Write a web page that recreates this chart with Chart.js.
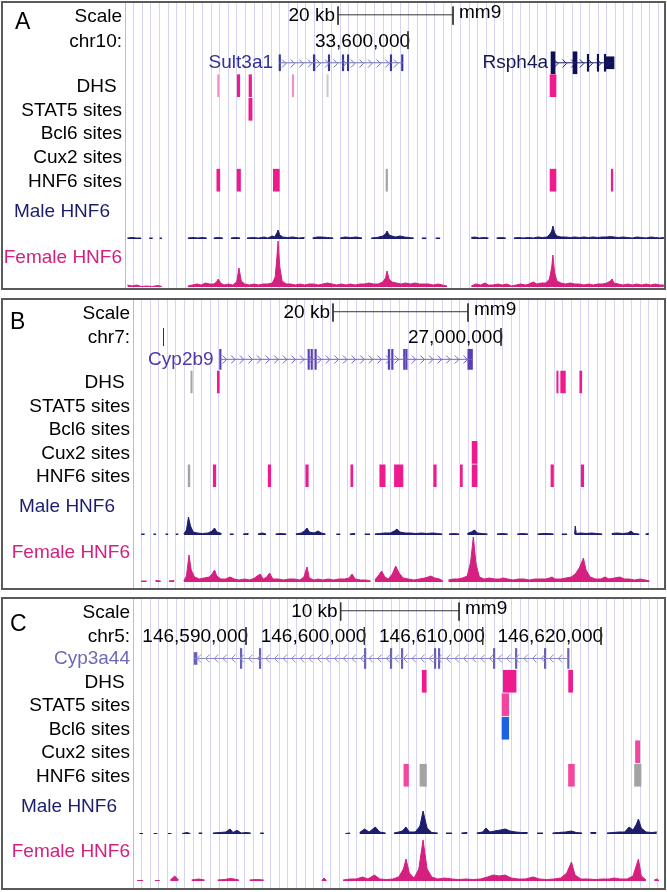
<!DOCTYPE html>
<html>
<head>
<meta charset="utf-8">
<title>HNF6 binding tracks</title>
<script src="https://cdn.jsdelivr.net/npm/chart.js@4.4.1/dist/chart.umd.min.js"></script>
<style>
  html, body { margin:0; padding:0; background:#fff; }
  body { position:relative; width:667px; height:892px; overflow:hidden; font-family:"Liberation Sans", Arial, Helvetica, sans-serif; }
  .panel { position:absolute; left:1px; width:661px; border:2px solid #5a5a5a; background:#fff; }
  .panel canvas { display:block; }
  .letter { position:absolute; font-size:23px; line-height:23px; color:#000; }
</style>
</head>
<body>
<div class="panel" style="top:1px;height:285px"><canvas id="cA" width="661" height="285"></canvas></div>
<div class="panel" style="top:298px;height:288px"><canvas id="cB" width="661" height="288"></canvas></div>
<div class="panel" style="top:597px;height:289px"><canvas id="cC" width="661" height="289"></canvas></div>
<div class="letter" style="left:15px;top:10px">A</div>
<div class="letter" style="left:10px;top:310px">B</div>
<div class="letter" style="left:10px;top:612px">C</div>
<script>
// ================= DATA (genomic positions in kb) =================
// ---- Panel A : chr10 ----
const A_range = [33550.78, 33644.52];
const A_coordTicks = [33600];
const A_coordLabels = ['33,600,000'];
const A_scaleBar = [33587.83, 33607.83];
const A_dhs = [[33566.88,33567.14,'L'],[33570.30,33570.74,'F'],[33572.35,33572.79,'F'],[33579.87,33580.13,'L'],[33585.87,33586.13,'g'],[33624.70,33625.74,'F']];
const A_stat5 = [[33572.32,33572.88,'F']];
const A_bcl6 = [];
const A_cux2 = [];
const A_hnf6 = [[33566.75,33567.27,'F'],[33570.27,33570.87,'F'],[33576.58,33577.62,'F'],[33596.18,33596.44,'G'],[33624.70,33625.74,'F'],[33635.34,33635.62,'F']];
const A_genes = [
  {name:'Sult3a1', strand:'+', start:33577.57, end:33599.13,
   exons:[[33577.57,33577.83,'x'],[33583.52,33583.82,'x'],[33586.13,33586.39,'x'],[33588.57,33588.83,'x'],[33589.44,33589.70,'x'],[33596.91,33597.17,'x'],[33598.87,33599.13,'x']]},
  {name:'Rsph4a', strand:'+', start:33624.87, end:33635.83,
   exons:[[33624.87,33625.57,'t'],[33628.70,33629.39,'t'],[33631.17,33631.43,'x'],[33632.91,33633.17,'x'],[33634.13,33634.39,'x'],[33634.43,33635.83,'u']]}
];
const A_male = [
  [33551.2,1],[33552.0,1.5],[33552.8,1],[33553.6,1],[33554.2,null],[33555.0,1],[33555.6,1],[33556.2,null],[33556.8,1],[33557.2,1],[33558.0,null],
  [33561.7,1],[33562.6,1.5],[33563.4,1],[33564.2,1.5],[33565.0,1],[33565.6,null],[33566.2,1],[33567.0,1.5],[33567.8,1],[33568.4,null],[33569.2,1],[33570.0,1.5],[33570.8,1],[33571.4,null],
  [33572.0,1],[33573.0,1.5],[33574.0,1],[33575.0,2],[33575.6,1],[33576.4,3],[33576.8,2],[33577.2,6],[33577.4,9],[33577.7,4],[33578.2,2],[33579.0,1.5],[33580.0,2],[33581.0,1],[33582.0,1.5],[33582.6,null],
  [33583.4,1],[33584.2,2],[33585.0,2],[33586.0,1.5],[33587.0,1],[33587.6,null],[33588.2,1],[33589.0,2],[33590.0,1.5],[33591.0,2],[33592.0,1],[33592.6,null],
  [33593.6,1],[33594.6,1.5],[33595.6,3],[33596.1,5],[33596.35,8],[33596.7,4],[33597.2,3],[33597.8,2],[33598.6,3],[33599.4,2],[33600.2,1.5],[33601.0,1],[33601.6,null],
  [33602.4,1],[33603.2,1],[33603.8,null],[33604.8,1],[33605.6,1],[33606.2,null],[33606.8,1],[33607.5,null],
  [33611.0,1.5],[33611.6,2],[33612.4,1],[33613.2,1.5],[33614.0,1],[33614.6,null],[33615.4,1],[33616.2,1.5],[33617.0,1],[33617.6,null],
  [33618.4,1],[33619.2,1.5],[33620.0,1],[33621.0,1.5],[33621.8,1],[33622.6,2],[33623.4,1.5],[33624.2,2],[33624.7,5],[33625.0,8],[33625.2,13],[33625.5,6],[33625.9,3],
  [33626.6,2],[33627.4,2],[33628.2,1.5],[33629.0,2],[33629.8,1.5],[33630.6,2],[33631.4,1.5],[33632.2,2],[33633.0,1.5],[33633.8,2],[33634.6,2],[33635.2,2.5],[33635.8,2],
  [33636.6,1.5],[33637.4,2],[33638.2,1.5],[33639.0,1],[33639.8,2],[33640.6,1.5],[33641.4,1],[33642.2,2],[33643.0,1.5],[33643.8,1],[33644.5,1.5]
];
const A_female = [
  [33551.2,2],[33552.0,1],[33552.8,2],[33553.6,0.5],[33554.5,1],[33555.5,0.5],[33556.5,1.5],[33557.2,0.5],[33558.0,null],
  [33561.7,1],[33562.5,2],[33563.3,3],[33564.0,2],[33564.8,4],[33565.5,3],[33566.2,3],[33566.7,5],[33567.0,8],[33567.4,4],[33568.0,2],[33568.8,3],[33569.5,2],
  [33570.2,5],[33570.6,19],[33571.0,6],[33571.6,3],[33572.4,2],[33573.2,3],[33574.0,2],[33574.8,3],[33575.6,3],[33576.4,4],[33576.9,10],[33577.2,30],[33577.4,46],[33577.7,20],[33578.1,6],
  [33578.8,3],[33579.6,3],[33580.4,2],[33581.2,3],[33582.0,2],[33582.8,3],[33583.6,3],[33584.4,2],[33585.2,3],[33586.0,4],[33586.8,3],[33587.6,2],[33588.4,3],[33589.2,2],
  [33590.0,3],[33590.8,2],[33591.6,3],[33592.4,3],[33593.2,4],[33594.0,3],[33594.8,3],[33595.6,5],[33596.1,9],[33596.35,16],[33596.7,8],[33597.2,5],[33598.0,4],[33598.8,3],
  [33599.6,4],[33600.4,3],[33601.2,4],[33602.0,3],[33602.8,3],[33603.6,3],[33604.4,2],[33605.2,3],[33606.0,2],[33606.8,1],[33607.5,null],
  [33611.0,1],[33611.8,3],[33612.6,2],[33613.4,4],[33614.0,2],[33614.8,2],[33615.6,3],[33616.4,2],[33617.2,3],[33618.0,1],[33618.8,2],[33619.6,3],[33620.4,2],[33621.0,3],
  [33621.8,5],[33622.4,3],[33623.2,4],[33624.0,4],[33624.6,8],[33625.0,20],[33625.2,32],[33625.5,14],[33625.9,6],[33626.6,4],[33627.4,3],[33628.2,4],[33629.0,3],[33629.8,3],
  [33630.6,2],[33631.4,3],[33632.2,2],[33633.0,3],[33633.8,3],[33634.6,4],[33635.2,6],[33635.5,8],[33635.8,4],[33636.6,3],[33637.4,2],[33638.2,3],[33639.0,2],[33639.8,3],
  [33640.6,2],[33641.4,3],[33642.2,2],[33643.0,3],[33643.8,2],[33644.5,2]
];

// ---- Panel B : chr7 ----
const B_range = [26945.48, 27024.15];
const B_coordTicks = [26950, 27000];
const B_coordLabels = ['', '27,000,000'];
const B_scaleBar = [26975.11, 26995.11];
const B_dhs = [[26954.05,26954.25,'G'],[26957.97,26958.27,'F'],[27008.26,27008.46,'F'],[27008.84,27009.54,'F'],[27011.67,27011.97,'F']];
const B_stat5 = [];
const B_bcl6 = [];
const B_cux2 = [[26995.72,26996.46,'F']];
const B_hnf6 = [[26953.65,26953.91,'G'],[26957.37,26957.75,'F'],[26965.51,26965.89,'F'],[26971.07,26971.45,'F'],[26977.75,26978.05,'F'],[26982.04,26982.84,'F'],
  [26984.21,26985.47,'F'],[26990.03,26990.41,'F'],[26993.98,26994.28,'F'],[26995.72,26996.46,'F'],[27007.40,27007.78,'F'],[27011.88,27012.26,'F']];
const B_genes = [
  {name:'Cyp2b9', strand:'+', start:26958.31, end:26995.78,
   exons:[[26958.31,26958.53,'x'],[26971.40,26971.62,'x'],[26971.85,26972.07,'x'],[26972.42,26972.64,'x'],[26983.28,26983.50,'x'],[26983.79,26984.01,'x'],
          [26985.56,26985.78,'x'],[26985.88,26986.10,'x'],[26995.08,26995.78,'x']]}
];
const B_male = [
  [26946.7,1],[26947.2,1],[26947.6,null],[26948.5,1],[26948.9,1],[26949.3,null],[26950.3,1],[26950.7,1],[26951.2,null],[26951.8,1],[26952.2,1],[26952.6,null],
  [26953.0,1],[26953.4,5],[26953.7,18],[26954.0,9],[26954.4,3],[26955.0,2],[26955.8,1.5],[26956.6,2],[26957.2,4],[26957.56,7],[26957.9,3],[26958.6,1.5],[26959.2,null],
  [26959.8,1],[26960.4,1],[26961.0,null],[26961.8,1],[26962.6,1.5],[26963.2,null],[26964.0,1],[26964.6,2],[26965.2,1],[26965.8,null],[26966.6,1],[26967.4,1.5],[26968.2,1],[26968.8,null],
  [26969.6,1],[26970.4,2],[26970.9,4],[26971.26,7],[26971.6,3],[26972.3,2],[26972.89,4],[26973.4,2],[26974.0,1],[26974.6,null],[26975.6,1],[26976.2,1],[26976.8,null],
  [26977.6,1],[26978.4,1.5],[26979.0,null],[26979.8,1],[26980.6,1],[26981.0,null],
  [26981.3,1],[26982.0,1.5],[26982.8,2],[26983.6,2],[26984.2,4],[26984.59,6],[26985.0,3],[26985.8,2],[26986.6,2],[26987.4,1.5],[26988.2,2],[26989.0,1.5],[26989.8,2],[26990.6,1.5],[26991.3,1],[26991.8,null],
  [26992.3,1],[26993.0,1.5],[26993.8,1],[26994.4,null],[26995.0,1.5],[26995.6,3],[26996.09,5],[26996.5,2],[26997.2,1.5],[26998.0,1],[26998.6,null],[26999.4,1],[27000.2,1.5],[27001.0,1],[27001.6,null],
  [27002.4,1],[27003.2,1.5],[27004.0,1],[27004.6,null],[27005.4,1],[27006.2,1.5],[27007.0,1.5],[27007.8,1],[27008.4,null],[27009.0,1],[27009.8,1],[27010.4,null],
  [27010.9,1],[27011.0,9],[27011.15,1.5],[27011.8,2],[27012.6,1.5],[27013.4,2],[27014.2,1.5],[27015.0,1],[27015.6,null],[27016.4,1.5],[27017.2,2],[27018.0,1.5],[27018.8,2],[27019.26,4],[27019.7,1.5],[27020.5,1],[27021.0,null],
  [27021.4,1],[27021.9,1.5],[27022.3,null]
];
const B_female = [
  [26946.7,1],[26947.5,1],[26948.0,null],[26948.8,1.5],[26949.6,1],[26950.2,null],[26950.8,1],[26951.6,1.5],[26952.2,null],
  [26953.0,1],[26953.4,6],[26953.78,27],[26954.1,12],[26954.6,5],[26955.3,3],[26956.0,4],[26956.8,5],[26957.2,8],[26957.56,12],[26957.9,6],[26958.5,3],[26959.2,3],[26959.85,5],
  [26960.5,3],[26961.2,2],[26962.0,3],[26962.8,2],[26963.5,4],[26964.3,8],[26964.8,3],[26965.3,5],[26965.7,9],[26966.2,3],[26967.0,3],[26967.8,2],[26968.6,3],[26969.4,3],
  [26970.2,2],[26970.8,5],[26971.26,15],[26971.6,4],[26972.3,2],[26972.9,3],[26973.6,2],[26974.4,3],[26975.2,2],[26976.0,3],[26976.8,3],[26977.5,4],[26977.93,8],[26978.4,3],
  [26979.2,2],[26980.0,2],[26980.7,1],[26981.0,null],
  [26981.3,2],[26981.8,6],[26982.31,11],[26982.8,5],[26983.3,3],[26983.9,8],[26984.4,16],[26984.9,9],[26985.5,4],[26986.3,3],[26987.1,2],[26987.9,3],[26988.7,4],[26989.2,5],
  [26989.59,6],[26990.2,4],[26990.9,3],[26991.4,1],[26991.8,null],
  [26992.2,2],[26992.9,3],[26993.6,3],[26994.3,4],[26995.0,6],[26995.5,20],[26995.9,45],[26996.3,18],[26996.8,5],[26997.5,3],[26998.3,4],[26999.1,3],[26999.8,3],[27000.3,4],
  [27001.0,3],[27001.8,2],[27002.6,3],[27003.4,3],[27004.2,2],[27005.0,3],[27005.8,3],[27006.6,3],[27007.2,4],[27007.56,5],[27008.0,3],[27008.8,3],[27009.6,4],[27010.4,5],
  [27011.0,8],[27011.6,14],[27012.21,24],[27012.6,12],[27013.2,5],[27014.0,3],[27014.8,3],[27015.4,5],[27016.0,3],[27016.8,4],[27017.6,5],[27018.3,3],[27019.0,3],[27019.8,2],
  [27020.6,3],[27021.4,2],[27022.0,1]
];

// ---- Panel C : chr5 ----
const C_range = [146580.45, 146625.32];
const C_coordTicks = [146590, 146600, 146610, 146620];
const C_coordLabels = ['146,590,000', '146,600,000', '146,610,000', '146,620,000'];
const C_scaleBar = [146598.0, 146608.0];
const C_dhs = [[146604.89,146605.23,'F'],[146611.74,146612.82,'F'],[146617.26,146617.60,'F']];
const C_stat5 = [[146611.63,146612.20,'S']];
const C_bcl6 = [[146611.63,146612.20,'B']];
const C_cux2 = [[146622.91,146623.27,'S']];
const C_hnf6 = [[146603.34,146603.73,'S'],[146604.70,146605.25,'G'],[146617.25,146617.75,'S'],[146622.83,146623.38,'G']];
const C_genes = [
  {name:'Cyp3a44', strand:'-', start:146585.61, end:146617.30,
   exons:[[146585.61,146585.86,'u'],[146589.52,146589.65,'x'],[146591.12,146591.25,'x'],[146600.00,146600.13,'x'],[146602.19,146602.32,'x'],[146603.12,146603.25,'x'],
          [146605.91,146606.04,'x'],[146606.25,146606.38,'x'],[146610.90,146611.03,'x'],[146612.76,146612.89,'x'],[146615.21,146615.34,'x'],[146617.17,146617.30,'x']]}
];
const C_male = [
  [146581.0,0.5],[146581.3,0.5],[146581.6,null],[146582.2,0.5],[146582.5,0.5],[146582.8,null],[146583.4,0.5],[146583.7,0.5],[146584.0,null],
  [146584.6,0.5],[146585.0,1.5],[146585.3,0.5],[146585.6,null],[146586.0,1],[146586.3,1],[146586.6,null],
  [146587.2,1],[146587.8,1.5],[146588.3,2],[146588.65,5],[146588.9,1.5],[146589.24,3.7],[146589.6,1],[146590.0,1.5],[146590.4,1],[146590.8,null],[146591.2,1],[146591.5,1],[146591.8,null],
  [146598.4,0.5],[146598.8,1],[146599.1,null],[146599.6,1.5],[146600.02,5],[146600.4,2],[146600.93,7],[146601.3,2],[146601.8,1],[146602.1,null],
  [146602.5,1],[146602.9,2],[146603.2,3],[146603.52,7],[146603.8,2],[146604.3,2],[146604.7,8],[146604.96,23],[146605.3,6],[146605.7,1.5],[146606.2,1],[146606.5,null],
  [146606.9,1],[146607.4,1],[146607.7,null],[146608.2,1],[146608.7,1.5],[146609.0,null],[146609.5,1],[146610.0,2],[146610.28,6],[146610.6,2],[146611.0,3],[146611.5,4],
  [146611.91,5],[146612.3,3],[146612.8,2],[146613.3,1.5],[146613.8,1.5],[146614.1,null],[146614.6,1],[146615.1,1],[146615.4,null],
  [146615.9,1],[146616.4,1.5],[146617.0,2],[146617.5,3],[146617.9,1.5],[146618.4,1],[146618.7,null],[146619.1,1.5],[146619.6,1.5],[146619.9,null],
  [146620.5,1],[146621.0,1.5],[146621.5,2],[146622.0,2],[146622.37,7],[146622.7,4],[146623.0,10],[146623.16,15],[146623.4,6],[146623.8,2],[146624.3,1.5],[146624.71,2],[146625.0,null]
];
const C_female = [
  [146580.8,0.5],[146581.3,0.5],[146581.6,null],[146582.3,0.5],[146582.7,0.5],[146583.0,null],[146583.6,1],[146583.98,5],[146584.3,1],[146584.7,null],
  [146585.4,1],[146586.0,2],[146586.5,1],[146586.9,null],[146587.6,1],[146588.2,1.5],[146588.65,2.5],[146589.0,2],[146589.4,1],[146589.8,null],
  [146590.3,1],[146590.9,1.5],[146591.5,1],[146591.9,null],
  [146596.4,0.5],[146596.59,3],[146596.8,0.5],[146597.0,null],
  [146598.2,1],[146598.8,2],[146599.3,2],[146599.85,4],[146600.3,2],[146600.85,6],[146601.3,2],[146601.9,1.5],[146602.4,2],[146602.9,4],[146603.3,12],[146603.52,22],
  [146603.8,8],[146604.2,3],[146604.6,12],[146604.96,41],[146605.3,12],[146605.7,4],[146606.2,2],[146606.8,3],[146607.4,2],[146608.0,1.5],[146608.6,2],[146609.2,1.5],
  [146609.8,2],[146610.4,4],[146610.9,6],[146611.4,5],[146611.91,6],[146612.4,3],[146613.0,2],[146613.6,2],[146614.25,4],[146614.8,2],[146615.4,1.5],[146616.0,2],
  [146616.6,3],[146617.1,8],[146617.5,19],[146617.8,6],[146618.3,2],[146618.9,2],[146619.5,1.5],[146620.1,2],[146620.7,2],[146621.1,3],[146621.6,2],[146622.2,2],
  [146622.7,5],[146623.16,22],[146623.4,5],[146623.8,1],[146624.1,null],[146624.5,1],[146624.71,2],[146624.9,0.5]
];

// ================= STYLE / LAYOUT =================
const FONT_FAMILY = '"Liberation Sans", Arial, Helvetica, sans-serif';
const FONT = {family: FONT_FAMILY, size: 19};
const FONT_CSS = '19px ' + FONT_FAMILY;
const COLORS = {F:'#ef1a8d', L:'#f291c6', S:'#f2479f', G:'#a3a3a3', g:'#cbcbcb', B:'#1b63e2'};
const GRID_C = '#d5d5f3', LEFT_C = '#f3a5a8';
const MALE_C = '#1d1d6b', FEMALE_C = '#d5207f';
const GENE_ROW = 2.53;
const EXON_H = {x: 17, t: 22, u: 12};
const GENE_STYLE = {
  Sult3a1: {exon:'#36369a', intron:'#7070b6', label:'#30309a', inPlot:true, gap:6, h:16},
  Rsph4a:  {exon:'#0f0f55', intron:'#1c1c60', label:'#161650', inPlot:true, gap:3, h:17},
  Cyp2b9:  {exon:'#5a3eb4', intron:'#7462c0', label:'#4f38a8', inPlot:true, gap:6, h:20},
  Cyp3a44: {exon:'#6762b8', intron:'#8a86c8', label:'#6e69b6', inPlot:false, gap:0, h:20}
};

const PANELS = {
  cA: {range:A_range, gridStep:1.4957, coordTicks:A_coordTicks, coordLabels:A_coordLabels, scaleBar:A_scaleBar, scaleText:'20 kb', chr:'chr10:',
       dhs:A_dhs, stat5:A_stat5, bcl6:A_bcl6, cux2:A_cux2, hnf6:A_hnf6, genes:A_genes, male:A_male, female:A_female,
       axisW:122, weights:[189,48,48], maleAx:{min:-1,max:47,label:27,pad:15}, femaleAx:{min:-1,max:47,label:29,pad:3}},
  cB: {range:B_range, gridStep:1.274, coordTicks:B_coordTicks, coordLabels:B_coordLabels, scaleBar:B_scaleBar, scaleText:'20 kb', chr:'chr7:',
       dhs:B_dhs, stat5:B_stat5, bcl6:B_bcl6, cux2:B_cux2, hnf6:B_hnf6, genes:B_genes, male:B_male, female:B_female,
       axisW:130, weights:[187.5,49.5,51], maleAx:{min:-2,max:47.5,label:28,pad:18}, femaleAx:{min:-6,max:45,label:29,pad:3}},
  cC: {range:C_range, gridStep:0.7268, coordTicks:C_coordTicks, coordLabels:C_coordLabels, scaleBar:C_scaleBar, scaleText:'10 kb', chr:'chr5:',
       dhs:C_dhs, stat5:C_stat5, bcl6:C_bcl6, cux2:C_cux2, hnf6:C_hnf6, genes:C_genes, male:C_male, female:C_female,
       axisW:130, weights:[188,49,52], maleAx:{min:-2,max:47,label:27,pad:16}, femaleAx:{min:-7,max:45,label:29,pad:3}}
};

// ================= PLUGINS =================
const trackTextPlugin = {
  id: 'trackText',
  beforeDatasetsDraw(chart) {
    const P = PANELS[chart.canvas.id];
    const xs = chart.scales.x, ys = chart.scales.yFeat, ctx = chart.ctx;
    ctx.save();
    ctx.font = FONT_CSS;
    ctx.textBaseline = 'middle';
    ctx.fillStyle = '#000';
    const b0 = xs.getPixelForValue(P.scaleBar[0]), b1 = xs.getPixelForValue(P.scaleBar[1]);
    ctx.textAlign = 'right';
    ctx.fillText(P.scaleText, b0 - 3, ys.getPixelForValue(0.55));
    ctx.textAlign = 'left';
    ctx.fillText('mm9', b1 + 6, ys.getPixelForValue(0.42));
    ctx.textAlign = 'right';
    P.coordTicks.forEach((t, i) => {
      const lab = P.coordLabels[i];
      if (lab) ctx.fillText(lab, xs.getPixelForValue(t) + 2, ys.getPixelForValue(1.62));
    });
    P.genes.forEach(g => {
      const st = GENE_STYLE[g.name];
      if (!st.inPlot) return;
      ctx.fillStyle = st.label;
      ctx.fillText(g.name, xs.getPixelForValue(g.start) - st.gap, ys.getPixelForValue(GENE_ROW));
    });
    ctx.restore();
  }
};
const intronArrowPlugin = {
  id: 'intronArrows',
  afterDatasetsDraw(chart) {
    const P = PANELS[chart.canvas.id];
    const xs = chart.scales.x, ys = chart.scales.yFeat, ctx = chart.ctx;
    const cy = Math.round(ys.getPixelForValue(GENE_ROW)) + 0.5;
    ctx.save();
    ctx.lineWidth = 1;
    P.genes.forEach(g => {
      const st = GENE_STYLE[g.name];
      const p0 = xs.getPixelForValue(g.start), p1 = xs.getPixelForValue(g.end);
      const d = g.strand === '+' ? 1 : -1;
      ctx.strokeStyle = st.intron;
      for (let p = p0 + 5; p < p1 - 2; p += 8.6) {
        ctx.beginPath();
        ctx.moveTo(p - 2 * d, cy - 4);
        ctx.lineTo(p + 2 * d, cy);
        ctx.lineTo(p - 2 * d, cy + 4);
        ctx.stroke();
      }
    });
    ctx.restore();
  }
};

// ================= BUILD =================
function pts(arr) { return arr.map(p => ({x: p[0], y: p[1]})); }
function noPad(s) { s.paddingTop = 0; s.paddingBottom = 0; s.paddingLeft = 0; s.paddingRight = 0; }

function buildPanel(id) {
  const P = PANELS[id];
  const datasets = [];
  // feature (site) tracks
  const feats = [];
  [[P.dhs, 3], [P.stat5, 4], [P.bcl6, 5], [P.cux2, 6], [P.hnf6, 7]].forEach(([arr, row]) => {
    arr.forEach(f => feats.push({x: [f[0], f[1]], y: row + 0.5, c: f[2]}));
  });
  datasets.push({type:'bar', indexAxis:'y', xAxisID:'x', yAxisID:'yFeat', data: feats, grouped:false, barThickness:22,
    borderWidth:0, backgroundColor: c => (c.raw ? COLORS[c.raw.c] : '#000')});
  // genes
  P.genes.forEach(g => {
    const st = GENE_STYLE[g.name];
    datasets.push({type:'line', xAxisID:'x', yAxisID:'yFeat', data:[{x:g.start, y:GENE_ROW}, {x:g.end, y:GENE_ROW}],
      borderColor: st.intron, borderWidth:1, pointRadius:0, fill:false});
    Object.keys(EXON_H).forEach(k => {
      const ex = g.exons.filter(e => e[2] === k);
      if (!ex.length) return;
      datasets.push({type:'bar', indexAxis:'y', xAxisID:'x', yAxisID:'yFeat', data: ex.map(e => ({x:[e[0], e[1]], y:GENE_ROW})),
        grouped:false, barThickness: k === 'x' ? st.h : EXON_H[k], borderWidth:0, backgroundColor: st.exon});
    });
  });
  // scale bar
  const sb = P.scaleBar;
  datasets.push({type:'line', xAxisID:'x', yAxisID:'yFeat', data:[{x:sb[0], y:0.5}, {x:sb[1], y:0.5}],
    borderColor:'#333', borderWidth:1, pointRadius:0, fill:false});
  datasets.push({type:'line', xAxisID:'x', yAxisID:'yFeat',
    data:[{x:sb[0], y:0.15}, {x:sb[0], y:0.92}, {x:sb[0], y:null}, {x:sb[1], y:0.15}, {x:sb[1], y:0.92}],
    borderColor:'#333', borderWidth:1, pointRadius:0, fill:false, spanGaps:false});
  // coordinate ticks
  const ct = [];
  P.coordTicks.forEach(t => { ct.push({x:t, y:1.2}, {x:t, y:1.95}, {x:t, y:null}); });
  datasets.push({type:'line', xAxisID:'x', yAxisID:'yFeat', data: ct, borderColor:'#333', borderWidth:1, pointRadius:0, fill:false, spanGaps:false});
  // signal tracks
  datasets.push({type:'line', xAxisID:'x', yAxisID:'yMale', data: pts(P.male), borderColor: MALE_C, backgroundColor: MALE_C,
    borderWidth:1, pointRadius:0, fill:'origin', tension:0, spanGaps:false});
  datasets.push({type:'line', xAxisID:'x', yAxisID:'yFemale', data: pts(P.female), borderColor: FEMALE_C, backgroundColor: FEMALE_C,
    borderWidth:1, pointRadius:0, fill:'origin', tension:0, spanGaps:false});

  // left labels of the feature block
  const rows = [
    {v:0.57, t:'Scale', c:'#000'},
    {v:1.62, t:P.chr, c:'#000'}
  ];
  P.genes.forEach(g => { if (!GENE_STYLE[g.name].inPlot) rows.push({v:2.55, t:g.name, c:GENE_STYLE[g.name].label}); });
  rows.push({v:3.55, t:'DHS ', c:'#000'}, {v:4.55, t:'STAT5 sites', c:'#000'}, {v:5.55, t:'Bcl6 sites', c:'#000'},
            {v:6.55, t:'Cux2 sites', c:'#000'}, {v:7.55, t:'HNF6 sites', c:'#000'});

  const axFit = s => { s.width = P.axisW; noPad(s); };
  const wigAxis = (ax, text, color, weight, sw) => ({
    type:'linear', axis:'y', position:'left', stack:'panel', stackWeight: sw, weight: weight,
    min: ax.min, max: ax.max, offset:false,
    grid:{display:false, drawTicks:false, offset:false}, border:{display:false},
    afterBuildTicks: s => { s.ticks = [{value: ax.label}]; },
    afterFit: axFit,
    ticks:{autoSkip:false, padding: ax.pad, font: FONT, color: color, callback: () => text}
  });

  new Chart(document.getElementById(id), {
    type: 'scatter',
    data: {datasets},
    plugins: [trackTextPlugin, intronArrowPlugin],
    options: {
      responsive:false, maintainAspectRatio:false, animation:false, devicePixelRatio:1, events:[],
      layout:{padding:0, autoPadding:false},
      plugins:{legend:{display:false}, tooltip:{enabled:false}},
      scales: {
        x: {
          type:'linear', axis:'x', position:'bottom', min:P.range[0], max:P.range[1], offset:false,
          grid:{color: c => (c.index === 0 ? LEFT_C : GRID_C), lineWidth:1, drawTicks:false, offset:false},
          border:{display:false},
          ticks:{display:false, autoSkip:false},
          afterBuildTicks: s => {
            const t = [];
            for (let v = P.range[0]; v <= P.range[1] + 1e-9; v += P.gridStep) t.push({value: v});
            s.ticks = t;
          },
          afterFit: s => { s.height = 0; noPad(s); }
        },
        yFeat: {
          type:'linear', axis:'y', position:'left', stack:'panel', stackWeight:P.weights[0], weight:3,
          reverse:true, min:0, max:8, offset:false,
          grid:{display:false, drawTicks:false, offset:false}, border:{display:false},
          afterBuildTicks: s => { s.ticks = rows.map(r => ({value: r.v})); },
          afterFit: axFit,
          ticks:{autoSkip:false, padding:3, font:FONT, color: c => (rows[c.index] ? rows[c.index].c : '#000'),
                 callback: (v, i) => (rows[i] ? rows[i].t : '')}
        },
        yMale: wigAxis(P.maleAx, 'Male HNF6', MALE_C, 2, P.weights[1]),
        yFemale: wigAxis(P.femaleAx, 'Female HNF6', FEMALE_C, 1, P.weights[2])
      }
    }
  });
}

['cA', 'cB', 'cC'].forEach(buildPanel);
</script>
</body>
</html>
